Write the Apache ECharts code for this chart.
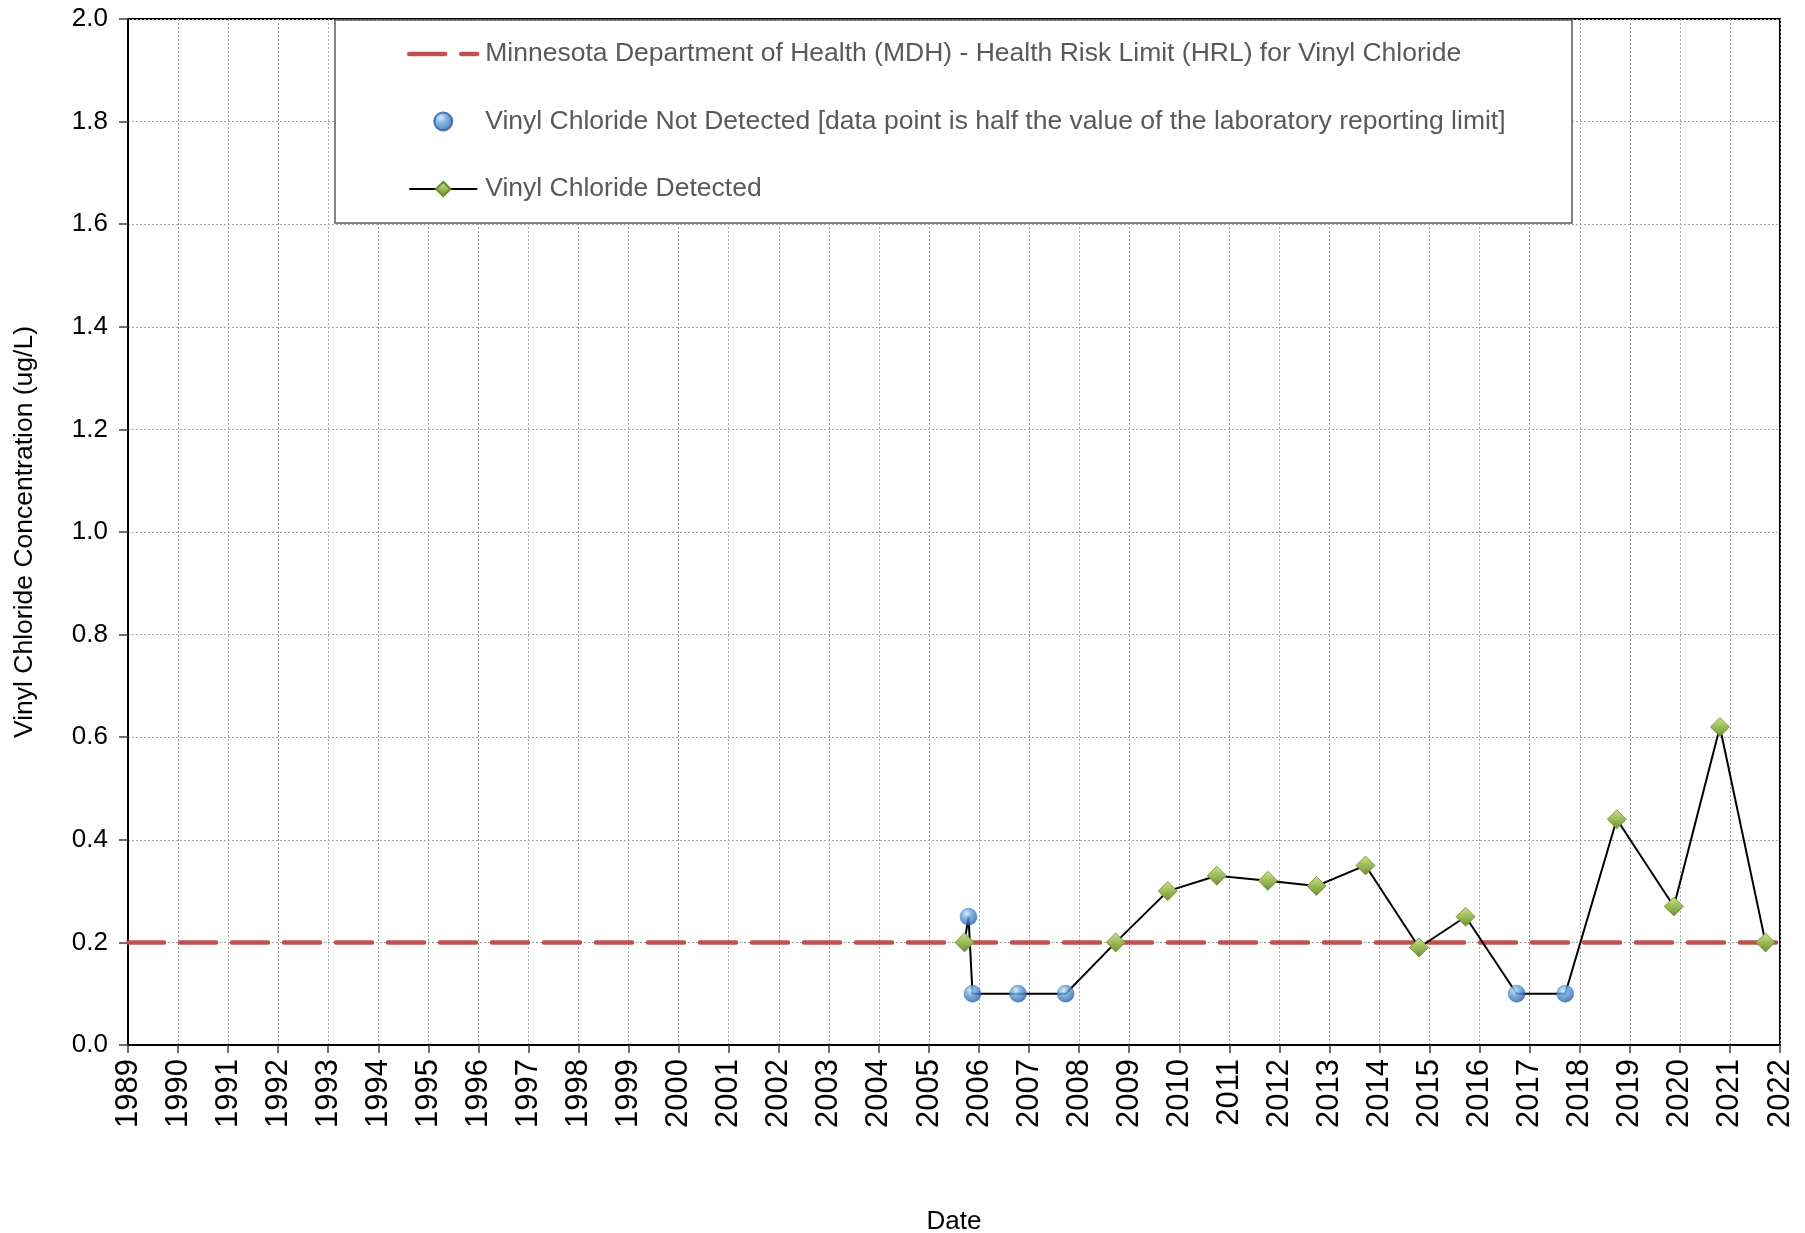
<!DOCTYPE html>
<html>
<head>
<meta charset="utf-8">
<title>Vinyl Chloride Concentration</title>
<script src="https://cdn.jsdelivr.net/npm/echarts@6/dist/echarts.min.js"></script>
<style>
  html, body { margin: 0; padding: 0; background: #ffffff; }
  #chart { width: 1805px; height: 1233px; }
</style>
</head>
<body>
<div id="chart"></div>
<script>
// Sample dates (decimal years) and concentrations in ug/L
const detectedDates  = [2005.71, 2008.73, 2009.77, 2010.75, 2011.77, 2012.74, 2013.72, 2014.79, 2015.72, 2018.74, 2019.88, 2020.80, 2021.71];
const detectedValues = [0.20, 0.20, 0.30, 0.33, 0.32, 0.31, 0.35, 0.19, 0.25, 0.44, 0.27, 0.62, 0.20];

// Non-detects plotted at half the laboratory reporting limit
const nonDetectDates  = [2005.79, 2005.87, 2006.78, 2007.73, 2016.74, 2017.71];
const nonDetectValues = [0.25, 0.10, 0.10, 0.10, 0.10, 0.10];

// MDH Health Risk Limit
const hrlValue = 0.2;

// Axis ranges
const yearStart = 1989;
const yearEnd = 2022;
const concMax = 2.0;
const concStep = 0.2;

const hrlName = 'Minnesota Department of Health (MDH) - Health Risk Limit (HRL) for Vinyl Chloride';
const ndName = 'Vinyl Chloride Not Detected [data point is half the value of the laboratory reporting limit]';
const detName = 'Vinyl Chloride Detected';

// All samples in date order; the connecting line runs through detects and non-detects alike
const allSamples = detectedDates.map((d, i) => ({ date: d, value: detectedValues[i], detected: true }))
  .concat(nonDetectDates.map((d, i) => ({ date: d, value: nonDetectValues[i], detected: false })))
  .sort((a, b) => a.date - b.date);

const sphereFill = new echarts.graphic.RadialGradient(0.38, 0.32, 0.75, [
  { offset: 0, color: '#cfe6ff' },
  { offset: 0.35, color: '#6aa6e0' },
  { offset: 0.8, color: '#2f6db5' },
  { offset: 1, color: '#1d4f8e' }
]);
const diamondFill = new echarts.graphic.LinearGradient(0, 0, 0, 1, [
  { offset: 0, color: '#c9e38a' },
  { offset: 0.5, color: '#9bbb59' },
  { offset: 1, color: '#6e8c34' }
]);

const hrlDash = [36, 16];
const fontFamily = 'Liberation Sans, Arial, sans-serif';

const chart = echarts.init(document.getElementById('chart'), null, { renderer: 'canvas' });

const option = {
  backgroundColor: '#ffffff',
  animation: false,
  grid: {
    left: 128, right: 25, top: 19, bottom: 188,
    show: true, borderColor: '#000000', borderWidth: 2,
    outerBoundsMode: 'none'
  },
  graphic: [{
    type: 'rect',
    z: 3,
    shape: { x: 335, y: 20, width: 1237, height: 203 },
    style: { fill: '#ffffff', stroke: '#595959', lineWidth: 1.5 }
  }],
  legend: {
    orient: 'vertical',
    left: 407,
    top: 39,
    padding: 0,
    z: 10,
    itemWidth: 68,
    itemHeight: 18,
    itemGap: 37.5,
    selectedMode: false,
    textStyle: {
      fontFamily: fontFamily,
      fontSize: 26.5,
      lineHeight: 30,
      color: '#595959',
      padding: [0, 0, 0, 3]
    },
    data: [
      {
        name: hrlName,
        itemStyle: { color: 'rgba(0,0,0,0)', borderWidth: 0 },
        lineStyle: { color: '#c0504d', width: 4.5, type: hrlDash, cap: 'round' }
      },
      { name: ndName },
      { name: detName }
    ]
  },
  xAxis: {
    type: 'value',
    min: yearStart,
    max: yearEnd,
    interval: 1,
    name: 'Date',
    nameLocation: 'middle',
    nameGap: 164,
    nameTextStyle: { fontFamily: fontFamily, fontSize: 26, color: '#000000' },
    axisLine: { show: true, onZero: false, lineStyle: { color: '#000000', width: 2 } },
    axisTick: { show: true, inside: false, length: 8, lineStyle: { color: '#404040', width: 1.5 } },
    axisLabel: {
      rotate: 90,
      margin: 14,
      fontFamily: fontFamily,
      fontSize: 31,
      color: '#000000',
      formatter: v => String(v)
    },
    splitLine: { show: true, lineStyle: { color: '#a6a6a6', width: 1, type: [2, 2] } }
  },
  yAxis: {
    type: 'value',
    min: 0,
    max: concMax,
    interval: concStep,
    name: 'Vinyl Chloride Concentration (ug/L)',
    nameLocation: 'middle',
    nameGap: 90,
    nameTextStyle: { fontFamily: fontFamily, fontSize: 26.5, color: '#000000' },
    axisLine: { show: true, lineStyle: { color: '#000000', width: 2 } },
    axisTick: { show: true, inside: false, length: 9, lineStyle: { color: '#404040', width: 1.5 } },
    axisLabel: {
      margin: 20,
      fontFamily: fontFamily,
      fontSize: 26,
      color: '#000000',
      formatter: v => v.toFixed(1)
    },
    splitLine: { show: true, lineStyle: { color: '#a6a6a6', width: 1, type: [2, 2] } }
  },
  series: [
    {
      name: hrlName,
      type: 'line',
      z: 2,
      symbol: 'none',
      silent: true,
      data: [[yearStart, hrlValue], [yearEnd, hrlValue]],
      lineStyle: { color: '#c0504d', width: 4.5, type: hrlDash, cap: 'round' },
      itemStyle: { color: '#c0504d' }
    },
    {
      name: detName,
      type: 'line',
      z: 3,
      symbol: 'diamond',
      symbolSize: 19,
      lineStyle: { color: '#000000', width: 2 },
      itemStyle: { color: diamondFill, borderColor: '#6b8a2e', borderWidth: 0.8 },
      data: allSamples.map(s => s.detected
        ? { value: [s.date, s.value] }
        : { value: [s.date, s.value], symbol: 'none' })
    },
    {
      name: ndName,
      type: 'scatter',
      z: 4,
      symbol: 'circle',
      symbolSize: 17,
      itemStyle: { color: sphereFill, borderColor: '#2a5c9c', borderWidth: 0.5 },
      data: nonDetectDates.map((d, i) => [d, nonDetectValues[i]])
    }
  ]
};

chart.setOption(option);
</script>
</body>
</html>
